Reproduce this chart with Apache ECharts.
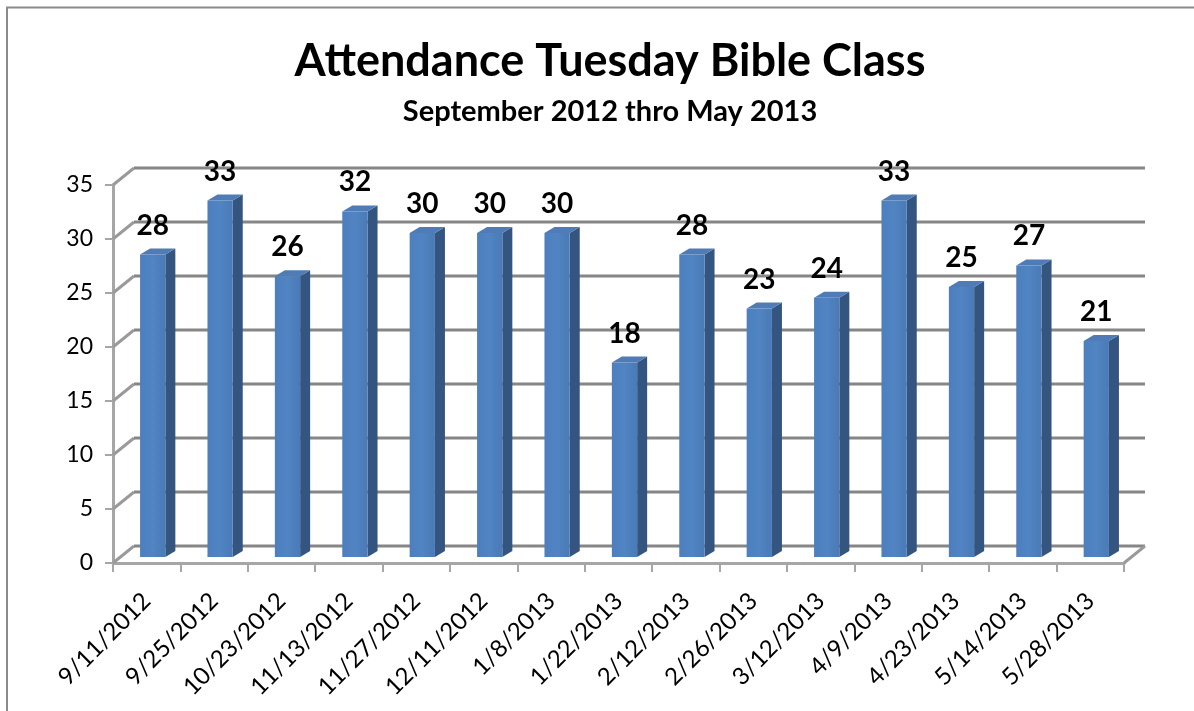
<!DOCTYPE html>
<html>
<head>
<meta charset="utf-8">
<script src="https://cdn.jsdelivr.net/npm/echarts@6/dist/echarts.min.js"></script>
<style>
html,body{margin:0;padding:0;background:#fff;}
#chart{width:1194px;height:711px;}
</style>
</head>
<body>
<div id="chart"></div>
<script>
const categories = ['9/11/2012', '9/25/2012', '10/23/2012', '11/13/2012', '11/27/2012', '12/11/2012', '1/8/2013', '1/22/2013', '2/12/2013', '2/26/2013', '3/12/2013', '4/9/2013', '4/23/2013', '5/14/2013', '5/28/2013'];
const attendance = [28, 33, 26, 32, 30, 30, 30, 18, 28, 23, 24, 33, 25, 27, 20];
const dataLabels = ['28', '33', '26', '32', '30', '30', '30', '18', '28', '23', '24', '33', '25', '27', '21'];
const yTicks = [0, 5, 10, 15, 20, 25, 30, 35];

const WALL_DX = 21, WALL_DY = 17;   // 3D depth of back wall
const BAR_SHIFT_X = 6, BAR_SHIFT_Y = 6; // bar front-face depth
const BAR_DX = 10, BAR_DY = 6;       // bar depth

const chart = echarts.init(document.getElementById('chart'));

const option = {
  animation: false,
  backgroundColor: '#fff',
  title: [
    {
      text: 'Attendance Tuesday Bible Class',
      left: 605, top: 34, textAlign: 'center',
      textStyle: { fontFamily: 'Lato', fontWeight: 'bold', fontSize: 45, lineHeight: 45, color: '#000' }
    },
    {
      text: 'September 2012 thro May 2013',
      left: 605, top: 92, textAlign: 'center',
      textStyle: { fontFamily: 'Lato', fontWeight: 'bold', fontSize: 29, lineHeight: 29, color: '#000' }
    }
  ],
  graphic: [
    { type: 'line', shape: { x1: 6, y1: 7.5, x2: 1194, y2: 7.5 }, style: { stroke: '#8a8a8a', lineWidth: 2 } },
    { type: 'line', shape: { x1: 7, y1: 7, x2: 7, y2: 711 }, style: { stroke: '#8a8a8a', lineWidth: 2 } }
  ],
  grid: { left: 113, right: 70, top: 185, bottom: 148 },
  xAxis: {
    type: 'category',
    data: categories,
    boundaryGap: true,
    axisLine: { lineStyle: { color: '#a6a6a6', width: 3 } },
    axisTick: { show: true, length: 9, lineStyle: { color: '#a6a6a6', width: 2 } },
    axisLabel: { rotate: 45, margin: 34, interval: 0, fontFamily: 'Lato', fontSize: 24, color: '#000' },
    splitLine: { show: false }
  },
  yAxis: {
    type: 'value',
    min: 0, max: 35, interval: 5,
    axisLine: { show: true, lineStyle: { color: '#a6a6a6', width: 3 } },
    axisTick: { show: true, length: 8, lineStyle: { color: '#a6a6a6', width: 2 } },
    axisLabel: { margin: 20, fontFamily: 'Lato', fontSize: 23, color: '#000' },
    splitLine: { show: false }
  },
  series: [
    {
      type: 'custom',
      z: 1,
      silent: true,
      data: yTicks.map(v => [0, v]),
      renderItem: function (params, api) {
        const cs = params.coordSys;
        const v = api.value(1);
        const y = api.coord([0, v])[1];
        const L = cs.x, R = cs.x + cs.width;
        const children = [
          { type: 'line', shape: { x1: L, y1: y, x2: L + WALL_DX, y2: y - WALL_DY }, style: { stroke: '#9a9a9a', lineWidth: 3 } },
          { type: 'line', shape: { x1: L + WALL_DX, y1: y - WALL_DY, x2: R + WALL_DX, y2: y - WALL_DY }, style: { stroke: '#868686', lineWidth: 3 } }
        ];
        if (v === 0) {
          children.push({ type: 'line', shape: { x1: R, y1: y, x2: R + WALL_DX, y2: y - WALL_DY }, style: { stroke: '#9a9a9a', lineWidth: 3 } });
        }
        return { type: 'group', children: children };
      }
    },
    {
      type: 'custom',
      z: 3,
      data: attendance.map((v, i) => [i, v]),
      renderItem: function (params, api) {
        const i = api.value(0), v = api.value(1);
        const base = api.coord([i, 0]);
        const top = api.coord([i, v]);
        const band = api.size([1, 0])[0];
        const w = band * 0.375;
        const cx = base[0] + BAR_SHIFT_X;
        const x0 = cx - w / 2, x1 = cx + w / 2;
        const yb = base[1] - BAR_SHIFT_Y, yt = top[1] - BAR_SHIFT_Y;
        return {
          type: 'group',
          children: [
            { type: 'polygon', shape: { points: [[x1, yt], [x1 + BAR_DX, yt - BAR_DY], [x1 + BAR_DX, yb - BAR_DY], [x1, yb]] },
              style: { fill: '#34557f' } },
            { type: 'polygon', shape: { points: [[x0, yt], [x0 + BAR_DX, yt - BAR_DY], [x1 + BAR_DX, yt - BAR_DY], [x1, yt]] },
              style: { fill: '#4f7cb6' } },
            { type: 'rect', shape: { x: x0, y: yt, width: w, height: yb - yt },
              style: { fill: new echarts.graphic.LinearGradient(0, 0, 1, 0, [
                { offset: 0, color: '#4d7fbf' }, { offset: 0.5, color: '#5184c2' }, { offset: 1, color: '#4a7ab8' }]) } },
            { type: 'text', style: { text: dataLabels[i], x: cx, y: yt - 29, align: 'center', verticalAlign: 'middle',
              fontFamily: 'Lato', fontWeight: 'bold', fontSize: 28, fill: '#000' } }
          ]
        };
      }
    }
  ]
};
chart.setOption(option);
</script>
</body>
</html>
